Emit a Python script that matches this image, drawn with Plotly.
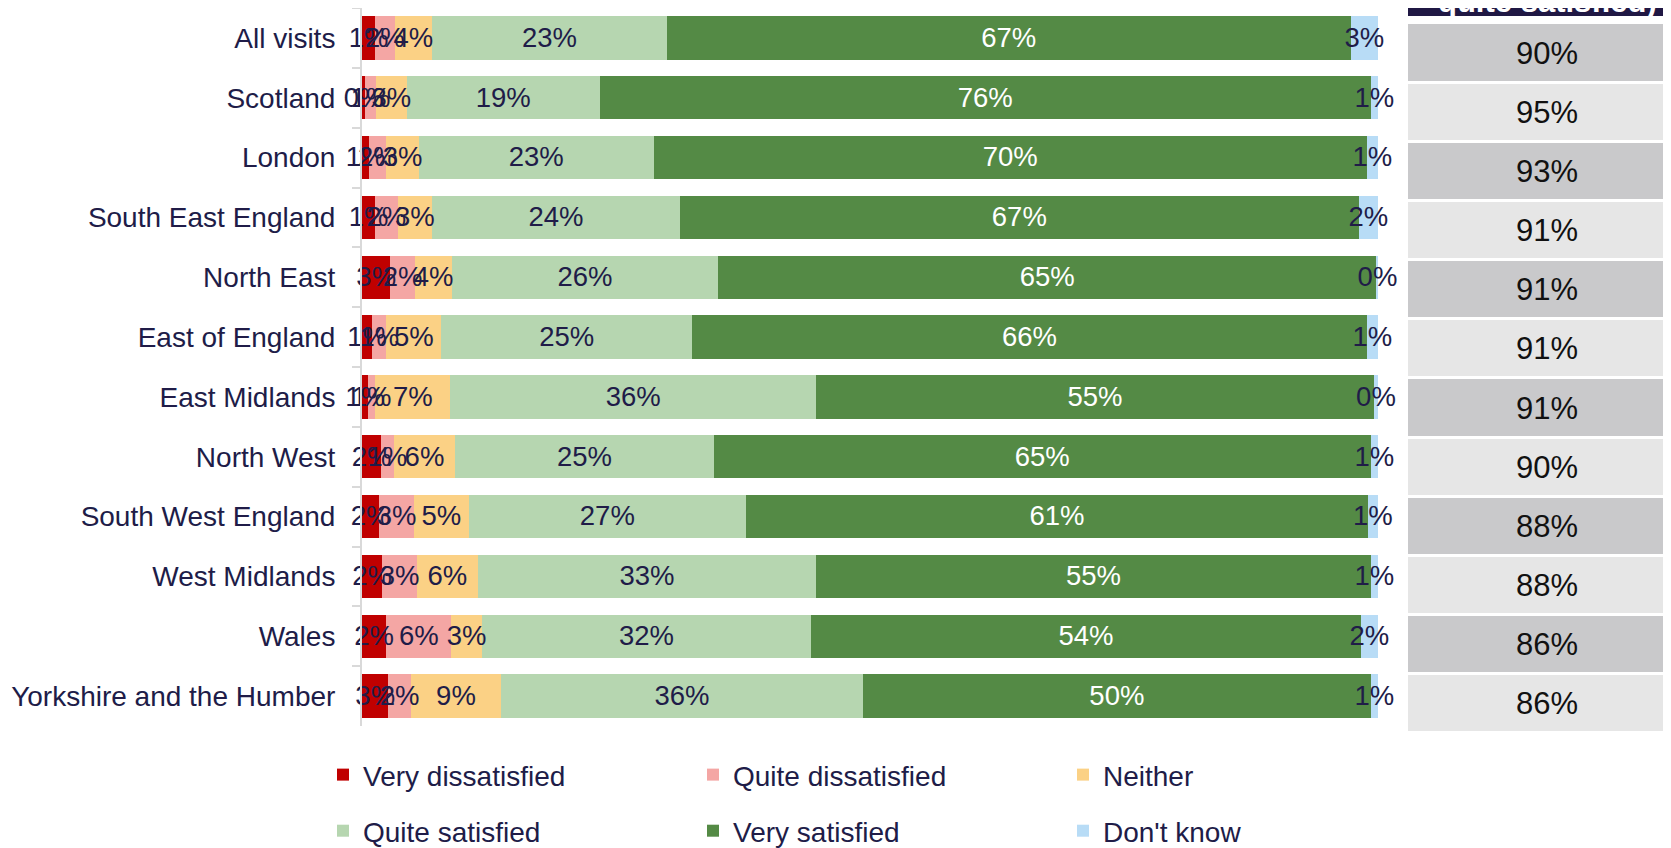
import plotly.graph_objects as go

# ---------------- data ----------------
categories = ["All visits", "Scotland", "London", "South East England", "North East",
              "East of England", "East Midlands", "North West", "South West England",
              "West Midlands", "Wales", "Yorkshire and the Humber"]

very_dissatisfied = [1.3, 0.3, 0.7, 1.3, 2.8, 1.0, 0.6, 1.9, 1.7, 2.0, 2.4, 2.6]
quite_dissatisfied = [1.9, 1.1, 1.7, 2.2, 2.4, 1.4, 0.7, 1.2, 3.4, 3.4, 6.4, 2.2]
neither = [3.7, 3.0, 3.2, 3.4, 3.7, 5.4, 7.4, 6.1, 5.4, 6.0, 3.0, 8.9]
quite_satisfied = [23.1, 19.0, 23.1, 24.4, 26.1, 24.7, 36.0, 25.4, 27.3, 33.3, 32.4, 35.6]
very_satisfied = [67.3, 75.9, 70.2, 66.8, 64.9, 66.4, 54.9, 64.7, 61.2, 54.6, 54.1, 50.0]
dont_know = [2.7, 0.7, 1.1, 1.9, 0.1, 1.1, 0.4, 0.7, 1.0, 0.7, 1.7, 0.7]

satisfied_total = [90, 95, 93, 91, 91, 91, 91, 90, 88, 88, 86, 86]
table_header = "quite satisfied)"

series_names = ["Very dissatisfied", "Quite dissatisfied", "Neither",
                "Quite satisfied", "Very satisfied", "Don't know"]
series_values = [very_dissatisfied, quite_dissatisfied, neither,
                 quite_satisfied, very_satisfied, dont_know]

# ---------------- styles ----------------
FONT = "Arial, 'Liberation Sans', sans-serif"
NAVY = "#201c48"
colors = ["#c00000", "#f4a6a4", "#fbd185", "#b6d6b0", "#548a45", "#b8dcf6"]
text_colors = [NAVY, NAVY, NAVY, NAVY, "#ffffff", NAVY]
legend_ids = ["legend", "legend", "legend", "legend2", "legend2", "legend2"]

W, H = 1671, 848
OFF = 8                     # page body margin
S = H / (H + 21)            # vertical squeeze of the photographed page


def fx(p):  # window px -> paper fraction (x)
    return (p - OFF) / W


def fig_py(p):  # window px -> figure px (y)
    return p / S - OFF


def fy(p):  # window px -> paper fraction (y)
    return 1 - fig_py(p) / H


fig = go.Figure()

# stacked bars
for name, vals, col, lg in zip(series_names, series_values, colors, legend_ids):
    fig.add_trace(go.Bar(
        y=categories, x=vals, name=name, orientation="h",
        marker=dict(color=col, line=dict(width=0)),
        textposition="none", legend=lg, hoverinfo="skip",
    ))

# segment labels, centred in each segment (drawn on an overlay axis with same rows)
n = len(categories)
main_top, main_bot = fig_py(7.85), fig_py(728)
main_row_px = (main_bot - max(main_top, 0)) / n
label_nudge = 2.0 / main_row_px
idx = list(range(n))
cum = [0.0] * n
for name, vals, tcol in zip(series_names, series_values, text_colors):
    mids = [c + v / 2 for c, v in zip(cum, vals)]
    cum = [c + v for c, v in zip(cum, vals)]
    fig.add_trace(go.Scatter(
        x=mids, y=[i + label_nudge for i in idx], yaxis="y3", mode="text",
        text=[f"{v:.0f}%" for v in vals],
        textfont=dict(family=FONT, size=27.5, color=tcol),
        showlegend=False, hoverinfo="skip", cliponaxis=False,
    ))

# ---------------- side table ----------------
rows = list(range(n))
row_px = 59.35 / S
row0_px = fig_py(52.4)
text_nudge = 3.5 / row_px
cell_px = 278.0

cell_colors = ["#c9c9cb" if i % 2 == 0 else "#e6e6e6" for i in rows]
fig.add_trace(go.Bar(
    x=[1] * n, y=rows, orientation="h", width=0.95,
    marker=dict(color=cell_colors, line=dict(width=0)),
    xaxis="x2", yaxis="y2", showlegend=False, hoverinfo="skip",
))
fig.add_trace(go.Bar(
    x=[1], y=[-1], orientation="h", width=0.78,
    marker=dict(color="#201844", line=dict(width=0)),
    xaxis="x2", yaxis="y2", showlegend=False, hoverinfo="skip",
))
fig.add_trace(go.Scatter(
    x=[0.5] * n, y=[r + text_nudge for r in rows], mode="text",
    text=[f"{v}%" for v in satisfied_total],
    textfont=dict(family=FONT, size=31, color="#111111"),
    xaxis="x2", yaxis="y2", showlegend=False, hoverinfo="skip", cliponaxis=False,
))

fig.add_annotation(
    x=0.5, xref="x2", y=fy(21), yref="paper", yanchor="bottom",
    text=f"<b>{table_header}</b>", showarrow=False,
    font=dict(family=FONT, size=31, color="#ffffff"),
)

# ---------------- layout ----------------
fig.update_layout(
    width=W, height=H,
    margin=dict(l=0, r=0, t=0, b=0),
    paper_bgcolor="white", plot_bgcolor="white",
    barmode="stack", bargap=0.276,
    font=dict(family=FONT, color=NAVY),
    xaxis=dict(domain=[fx(362), fx(1378)], range=[0, 100], visible=False),
    yaxis=dict(
        domain=[fy(728), 1], type="category",
        categoryorder="array", categoryarray=categories,
        range=[n - 0.5, -0.5],
        showline=True, linecolor="#d9d9d9", linewidth=2,
        ticks="outside", tickson="boundaries", ticklen=8, tickcolor="#d9d9d9", tickwidth=2,
        ticklabelstandoff=19,
        tickfont=dict(family=FONT, size=28, color=NAVY),
        showgrid=False, zeroline=False,
    ),
    yaxis3=dict(overlaying="y", anchor="x", range=[n - 0.5, -0.5], visible=False),
    xaxis2=dict(domain=[fx(1408), 1], range=[0, (W - (1408 - OFF)) / cell_px],
                visible=False, anchor="y2"),
    yaxis2=dict(
        domain=[0, 1], anchor="x2",
        range=[(H - row0_px) / row_px, -row0_px / row_px],
        visible=False,
    ),
    legend=dict(
        orientation="h", x=315 / W, xanchor="left", y=1 - 788.3 / H, yanchor="middle",
        entrywidth=325, entrywidthmode="pixels", traceorder="normal",
        font=dict(family=FONT, size=28, color=NAVY), bgcolor="rgba(0,0,0,0)",
    ),
    legend2=dict(
        orientation="h", x=315 / W, xanchor="left", y=1 - 846.3 / H, yanchor="middle",
        entrywidth=325, entrywidthmode="pixels", traceorder="normal",
        font=dict(family=FONT, size=28, color=NAVY), bgcolor="rgba(0,0,0,0)",
    ),
    showlegend=True,
)

fig.write_html("out.html")
